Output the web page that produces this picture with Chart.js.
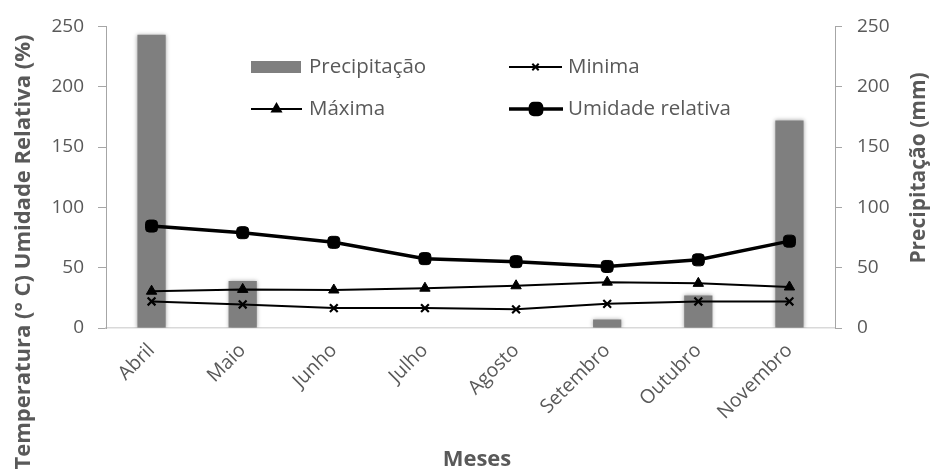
<!DOCTYPE html>
<html>
<head>
<meta charset="utf-8">
<script src="https://cdn.jsdelivr.net/npm/chart.js@4"></script>
<style>
  html, body { margin: 0; padding: 0; background: #ffffff; }
  #wrap { width: 932px; height: 473px; }
</style>
</head>
<body>
<div id="wrap"><canvas id="c" width="932" height="473"></canvas></div>
<script>
// Monthly climate data
const meses = ['Abril', 'Maio', 'Junho', 'Julho', 'Agosto', 'Setembro', 'Outubro', 'Novembro'];
const precipitacao = [243, 39, 0, 0, 0, 7, 27, 172];
const minima = [22, 19.5, 16.5, 16.5, 15.5, 20, 22, 22];
const maxima = [30.5, 32, 31.5, 33, 35, 38, 37, 34];
const umidade = [84.5, 79, 71, 57.5, 55, 51, 56.5, 72];
const yTicks = [0, 50, 100, 150, 200, 250];

const GRAY_TEXT = '#595959';
const FONT = "'Open Sans', 'DejaVu Sans', sans-serif";

// Left area width, right area width, x-axis band height
const LEFT_W = 106, RIGHT_W = 97, BOTTOM_H = 145, TOP_PAD = 25;

const titlesPlugin = {
  id: 'axisTitles',
  afterDraw(chart) {
    const ctx = chart.ctx;
    ctx.save();
    ctx.fillStyle = GRAY_TEXT;
    ctx.textAlign = 'center';
    ctx.textBaseline = 'middle';
    ctx.font = "bold 22px " + FONT;
    // left title, reading bottom to top
    ctx.save();
    ctx.translate(24, 252);
    ctx.rotate(-Math.PI / 2);
    ctx.fillText('Temperatura (° C) Umidade Relativa (%)', 0, 0);
    ctx.restore();
    // right title
    ctx.font = "bold 21px " + FONT;
    ctx.save();
    ctx.translate(919, 168);
    ctx.rotate(-Math.PI / 2);
    ctx.fillText('Precipitação (mm)', 0, 0);
    ctx.restore();
    // bottom title
    ctx.font = "bold 22px " + FONT;
    ctx.fillText('Meses', 477, 460);
    ctx.restore();
  }
};

const legendPlugin = {
  id: 'insideLegend',
  afterDraw(chart) {
    const ctx = chart.ctx;
    const ds = chart.data.datasets;
    ctx.save();
    ctx.font = "20.5px " + FONT;
    ctx.fillStyle = GRAY_TEXT;
    ctx.textBaseline = 'middle';
    ctx.textAlign = 'left';

    // Precipitação swatch
    ctx.fillStyle = ds[0].backgroundColor;
    ctx.fillRect(251, 61, 50, 12);
    ctx.fillStyle = GRAY_TEXT;
    ctx.fillText(ds[0].label, 309, 67);

    const lineItem = (d, x1, x2, y, tx) => {
      ctx.strokeStyle = d.borderColor;
      ctx.lineWidth = d.borderWidth;
      ctx.beginPath();
      ctx.moveTo(x1, y);
      ctx.lineTo(x2, y);
      ctx.stroke();
      ctx.fillStyle = '#000';
      Chart.helpers.drawPoint(ctx, {
        pointStyle: d.pointStyle,
        radius: d.legendRadius,
        borderWidth: d.pointBorderWidth || 1,
        rotation: 0
      }, (x1 + x2) / 2, y);
      ctx.fillStyle = GRAY_TEXT;
      ctx.fillText(d.label, tx, y);
    };
    lineItem(ds[1], 509, 562, 67, 568);
    lineItem(ds[2], 251, 302, 109, 309);
    lineItem(ds[3], 509, 563, 109, 568);
    ctx.restore();
  }
};

const barShadow = {
  id: 'barShadow',
  beforeDatasetDraw(chart, args) {
    if (args.index === 0) {
      const ctx = chart.ctx;
      ctx.save();
      ctx.shadowColor = 'rgba(0,0,0,0.35)';
      ctx.shadowBlur = 4;
    }
  },
  afterDatasetDraw(chart, args) {
    if (args.index === 0) chart.ctx.restore();
  }
};

new Chart(document.getElementById('c'), {
  data: {
    labels: meses,
    datasets: [
      {
        type: 'bar',
        label: 'Precipitação',
        data: precipitacao,
        yAxisID: 'y1',
        backgroundColor: '#7f7f7f',
        borderWidth: 0,
        categoryPercentage: 1,
        barPercentage: 0.31,
        order: 10
      },
      {
        type: 'line',
        label: 'Minima',
        data: minima,
        yAxisID: 'y',
        borderColor: '#000',
        backgroundColor: '#000',
        borderWidth: 2,
        pointStyle: 'crossRot',
        pointRadius: 5.5,
        legendRadius: 4.5,
        pointBorderWidth: 2.2,
        tension: 0,
        order: 3
      },
      {
        type: 'line',
        label: 'Máxima',
        data: maxima,
        yAxisID: 'y',
        borderColor: '#000',
        backgroundColor: '#000',
        borderWidth: 2,
        pointStyle: 'triangle',
        pointRadius: 6,
        legendRadius: 5,
        pointBorderWidth: 1,
        tension: 0,
        order: 2
      },
      {
        type: 'line',
        label: 'Umidade relativa',
        data: umidade,
        yAxisID: 'y',
        borderColor: '#000',
        backgroundColor: '#000',
        borderWidth: 3.5,
        pointStyle: 'rectRounded',
        pointRadius: 7,
        legendRadius: 6.5,
        pointBorderWidth: 1,
        tension: 0,
        order: 1
      }
    ]
  },
  options: {
    responsive: false,
    animation: false,
    layout: { padding: { top: TOP_PAD, left: 0, right: 0, bottom: 0 } },
    plugins: {
      legend: { display: false },
      tooltip: { enabled: false }
    },
    scales: {
      x: {
        offset: true,
        grid: { display: false, drawTicks: false },
        border: { display: true, color: '#d9d9d9', width: 1.5 },
        ticks: {
          color: GRAY_TEXT,
          font: { family: FONT, size: 19.5 },
          minRotation: 45,
          maxRotation: 45,
          padding: 11,
          autoSkip: false
        },
        afterFit(scale) { scale.height = BOTTOM_H; }
      },
      y: {
        position: 'left',
        min: 0,
        max: 250,
        afterBuildTicks(scale) { scale.ticks = yTicks.map(v => ({ value: v })); },
        grid: { drawOnChartArea: false, drawTicks: true, tickLength: 8, color: '#a6a6a6' },
        border: { display: true, color: '#a6a6a6' },
        ticks: {
          color: GRAY_TEXT,
          font: { family: FONT, size: 19 },
          padding: 14
        },
        afterFit(scale) { scale.width = LEFT_W; }
      },
      y1: {
        position: 'right',
        min: 0,
        max: 250,
        afterBuildTicks(scale) { scale.ticks = yTicks.map(v => ({ value: v })); },
        grid: { drawOnChartArea: false, drawTicks: true, tickLength: 7, color: '#a6a6a6' },
        border: { display: true, color: '#a6a6a6' },
        ticks: {
          color: GRAY_TEXT,
          font: { family: FONT, size: 19 },
          padding: 15
        },
        afterFit(scale) { scale.width = RIGHT_W; }
      }
    }
  },
  plugins: [barShadow, legendPlugin, titlesPlugin]
});
</script>
</body>
</html>
